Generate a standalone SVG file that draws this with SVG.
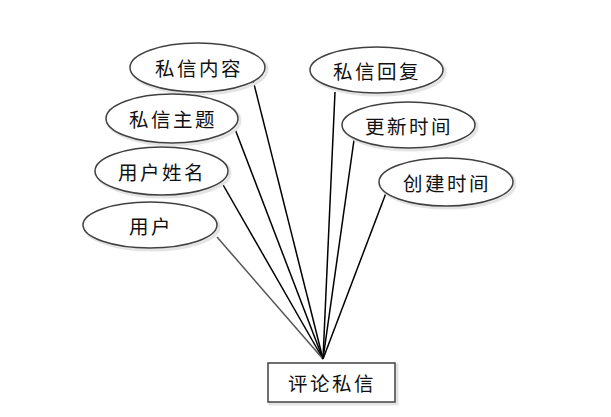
<svg xmlns="http://www.w3.org/2000/svg" width="611" height="417" viewBox="0 0 611 417">
<defs>
<style>
.sh{fill:none;stroke:#e4e4e4;stroke-width:3}
.el{fill:#ffffff;stroke:#404040;stroke-width:1.5}
.t{font-family:"Noto Sans CJK SC","Noto Sans CJK JP",sans-serif;font-size:19.5px;fill:#111;text-anchor:middle;dominant-baseline:central;letter-spacing:2.5px}
.ln{stroke:#000;stroke-width:1.5;fill:none}
.gr{stroke:#555}
</style>
</defs>
<rect width="611" height="417" fill="#fff"/>
<g id="connectors">
<line class="ln" x1="253" y1="80" x2="323" y2="359"/>
<line class="ln" x1="235" y1="129" x2="323" y2="359"/>
<line class="ln" x1="222" y1="183" x2="323" y2="359"/>
<line class="ln gr" x1="217" y1="237" x2="323" y2="359"/>
<line class="ln" x1="335" y1="92" x2="323" y2="359"/>
<line class="ln" x1="354" y1="140" x2="323" y2="359"/>
<line class="ln" x1="386" y1="193" x2="323" y2="359"/>
</g>
<g id="n1"><ellipse class="sh" cx="199.5" cy="69.5" rx="67.5" ry="24.5"/><ellipse class="el" cx="197.5" cy="67.5" rx="67.5" ry="24.5"/><text class="t" x="199" y="67.5">私信内容</text></g>
<g id="n2"><ellipse class="sh" cx="174" cy="120.5" rx="66" ry="24.5"/><ellipse class="el" cx="172" cy="118.5" rx="66" ry="24.5"/><text class="t" x="173" y="118.5">私信主题</text></g>
<g id="n3"><ellipse class="sh" cx="163.5" cy="173" rx="66.5" ry="24"/><ellipse class="el" cx="161.5" cy="171" rx="66.5" ry="24"/><text class="t" x="162" y="171">用户姓名</text></g>
<g id="n4"><ellipse class="sh" cx="152" cy="227" rx="67" ry="23"/><ellipse class="el" cx="150" cy="225" rx="67" ry="23"/><text class="t" x="151" y="225">用户</text></g>
<g id="n5"><ellipse class="sh" cx="378.5" cy="72" rx="66.5" ry="23"/><ellipse class="el" cx="376.5" cy="70" rx="66.5" ry="23"/><text class="t" x="377" y="70">私信回复</text></g>
<g id="n6"><ellipse class="sh" cx="410.5" cy="127" rx="66.5" ry="23"/><ellipse class="el" cx="408.5" cy="125" rx="66.5" ry="23"/><text class="t" x="409" y="125">更新时间</text></g>
<g id="n7"><ellipse class="sh" cx="448" cy="184" rx="67" ry="24"/><ellipse class="el" cx="446" cy="182" rx="67" ry="24"/><text class="t" x="447" y="182">创建时间</text></g>
<g id="entity"><rect x="270" y="365" width="127" height="39" fill="none" stroke="#e4e4e4" stroke-width="3"/><rect x="268" y="363" width="127" height="39" fill="#fff" stroke="#404040" stroke-width="1.5"/><text class="t" x="332" y="382.5">评论私信</text></g>
</svg>
